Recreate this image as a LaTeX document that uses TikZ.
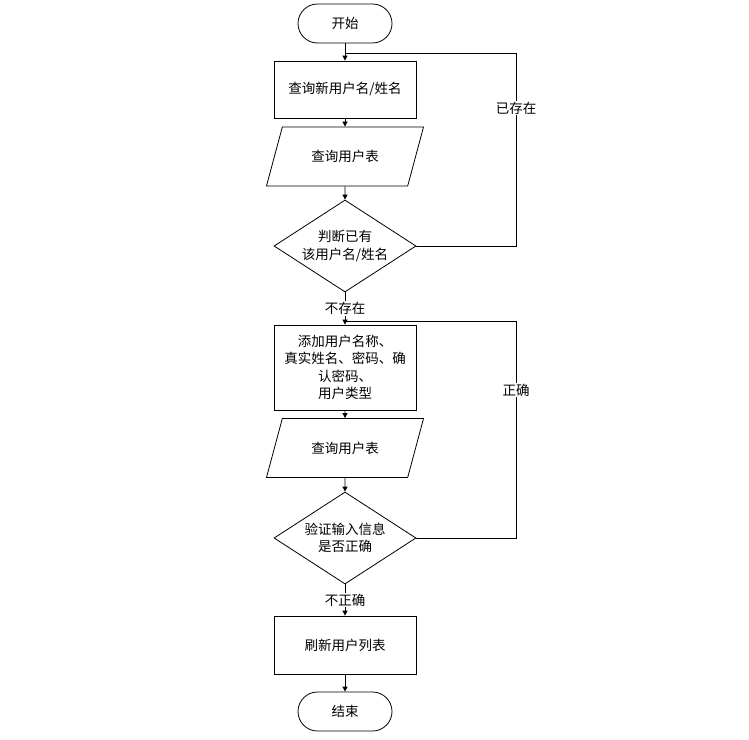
\documentclass[tikz,border=0pt]{standalone}
\usepackage{fontspec}
\setmainfont{Noto Sans CJK SC}
\usetikzlibrary{shapes.geometric,arrows.meta}

\begin{document}
\begin{tikzpicture}[-{Triangle[length=5pt,width=5pt]},line width=0.8pt,font=\fontsize{13.5}{17.5}\selectfont]
\tikzstyle{term}=[rectangle,rounded corners=19.5pt,minimum width=94pt,minimum height=39pt,draw=black,fill=white,text=black]
\tikzstyle{proc}=[rectangle,minimum width=142pt,minimum height=57pt,align=center,draw=black,fill=white,text=black]
\tikzstyle{io}=[trapezium,trapezium left angle=64,trapezium right angle=116,trapezium stretches=true,minimum width=158pt,minimum height=59pt,draw=black,fill=white,text=black]
\tikzstyle{decide}=[diamond,aspect=1.54,minimum width=142pt,minimum height=92pt,inner sep=0pt,align=center,draw=black,fill=white,text=black]
\tikzstyle{lbl}=[fill=white,inner sep=1pt]
\useasboundingbox (0,0) rectangle (749pt,-739pt);
\node[term] (start) at (345pt,-23.5pt) {开始};
\node[proc] (name) [below of=start,node distance=66pt] {查询新用户名/姓名};
\node[io] (table1) [below of=name,node distance=67pt] {查询用户表};
\node[decide] (exist) [below of=table1,node distance=89.5pt] {判断已有\\该用户名/姓名};
\node[proc,minimum height=85pt] (add) [below of=exist,node distance=121.5pt] {添加用户名称、\\真实姓名、密码、确\\认密码、\\用户类型};
\node[io] (table2) [below of=add,node distance=80.5pt] {查询用户表};
\node[decide] (check) [below of=table2,node distance=90pt] {验证输入信息\\是否正确};
\node[proc,minimum height=58pt] (refresh) [below of=check,node distance=107pt] {刷新用户列表};
\node[term] (stop) [below of=refresh,node distance=66.5pt] {结束};
\coordinate (j1) at (345pt,-53pt);
\coordinate (c1) at (516pt,-53pt);
\coordinate (j2) at (345pt,-321pt);
\coordinate (c2) at (516pt,-321pt);
\path (start) edge (name);
\path (name) edge (table1);
\path (table1) edge (exist);
\path (exist) edge node[lbl] {不存在} (add);
\path (add) edge (table2);
\path (table2) edge (check);
\path (check) edge node[lbl] {不正确} (refresh);
\path (refresh) edge (stop);
\draw[-] (exist.east) -| node[lbl,pos=0.857] {已存在} (c1) -- (j1);
\draw[-] (check.east) -| node[lbl,pos=0.841] {正确} (c2) -- (j2);
\end{tikzpicture}
\end{document}
